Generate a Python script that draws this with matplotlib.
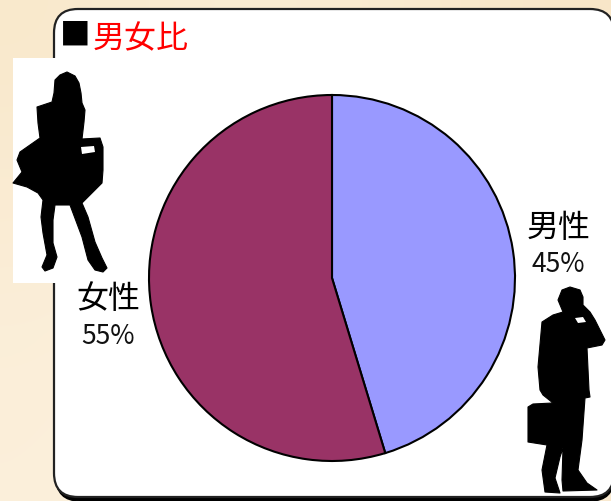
import matplotlib
matplotlib.use("Agg")
import matplotlib.pyplot as plt
import numpy as np
from matplotlib.patches import FancyBboxPatch, Polygon, Rectangle

plt.rcParams['font.family'] = ['Noto Sans CJK JP', 'DejaVu Sans']

labels = ["男性", "女性"]
percents = ["45%", "55%"]
values = [45.3, 54.7]
colors = ["#9999FF", "#993366"]
title = "男女比"

W, H = 611, 501

# silhouettes (pixels)
woman = [(67, 72), (75, 76), (79, 83), (81, 93), (82, 103), (85, 110), (84, 122), (82, 139),
         (100, 138), (103, 147), (103, 170), (102, 183), (95, 190), (85, 200), (82, 203),
         (88, 217), (95, 242), (102, 258), (107, 268), (103, 272), (95, 270), (88, 260),
         (82, 237), (70, 205), (55, 205), (53, 220), (53, 243), (57, 257), (53, 268), (45, 271),
         (42, 267), (47, 255), (43, 233), (41, 217), (43, 200), (38, 193), (27, 187), (13, 183),
         (22, 172), (17, 160), (20, 152), (40, 138), (38, 123), (37, 107), (52, 102), (54, 93),
         (55, 80), (60, 75)]
woman_gap = [(81, 147), (94, 146), (95, 152), (82, 154)]
man = [(570, 287), (580, 290), (583, 297), (583, 305), (590, 312), (595, 320), (605, 340),
       (602, 345), (587, 348), (589, 390), (590, 397), (585, 398), (582, 440), (578, 470),
       (587, 483), (597, 490), (563, 491), (562, 480), (563, 448), (560, 457), (555, 478),
       (560, 493), (545, 492), (542, 470), (547, 445), (528, 442), (528, 407), (533, 404),
       (553, 403), (543, 395), (540, 390), (538, 367), (542, 322), (553, 315), (563, 312),
       (558, 300), (562, 290)]
man_gap = [(575, 318), (583, 317), (586, 322), (578, 323)]

# paper colours behind the card, coarse grid
paper = ["#F9E9CC", "#FBEDD4", "#FAEBD0", "#F8E6C8",
         "#FAEBD2", "#FCF0DC", "#FBEDD5", "#F8E5C6",
         "#FBEED8", "#FCF1DF", "#FBEED8", "#F9E8CC",
         "#FBEFDA", "#FCF1DF", "#FBEFDA", "#F9E9CF"]

fig = plt.figure(figsize=(W / 100, H / 100), dpi=100)

# overlay in pixel coordinates
bg = fig.add_axes([0, 0, 1, 1])
paper_rgb = np.array([matplotlib.colors.to_rgb(c) for c in paper]).reshape(4, 4, 3)
bg.imshow(paper_rgb, extent=(0, W, H, 0), aspect="auto", interpolation="bicubic")
bg.set_xlim(0, W)
bg.set_ylim(H, 0)
bg.axis("off")

# card + its dark shadow at the bottom
bg.add_patch(FancyBboxPatch((56, 13), 558, 488, boxstyle="round,pad=0,rounding_size=24",
                            fc="black", ec="black", lw=1))
bg.add_patch(FancyBboxPatch((54, 9), 560, 488, boxstyle="round,pad=0,rounding_size=24",
                            fc="white", ec="#222222", lw=1.6))

bg.add_patch(Rectangle((13, 58), 102, 225, fc="white", ec="none"))
bg.add_patch(Polygon(woman, closed=True, fc="black", ec="black", lw=0.8, joinstyle="round"))
bg.add_patch(Polygon(woman_gap, closed=True, fc="white", ec="none"))
bg.add_patch(Polygon(man, closed=True, fc="black", ec="black", lw=0.8, joinstyle="round"))
bg.add_patch(Polygon(man_gap, closed=True, fc="white", ec="none"))

bg.text(75, 36, "■", fontsize=22, color="black", ha="center", va="center")
bg.text(141, 39, title, fontsize=23, color="#FF0000", ha="center", va="center")

bg.text(559, 228, labels[0], fontsize=23, color="black", ha="center", va="center")
bg.text(558, 264, percents[0], fontsize=19, color="#111111", ha="center", va="center")
bg.text(108, 299, labels[1], fontsize=23, color="black", ha="center", va="center")
bg.text(108, 336, percents[1], fontsize=19, color="#111111", ha="center", va="center")

# pie: centre (332, 278), radius 183 px
cx, cy, r = 332, 278, 183
ax = fig.add_axes([(cx - r) / W, 1 - (cy + r) / H, 2 * r / W, 2 * r / H])
ax.pie(values, colors=colors, startangle=90, counterclock=False, radius=1,
       wedgeprops={"edgecolor": "black", "linewidth": 1.5})
ax.set_xlim(-1, 1)
ax.set_ylim(-1, 1)
ax.patch.set_alpha(0)

fig.savefig("out.png", dpi=100)
